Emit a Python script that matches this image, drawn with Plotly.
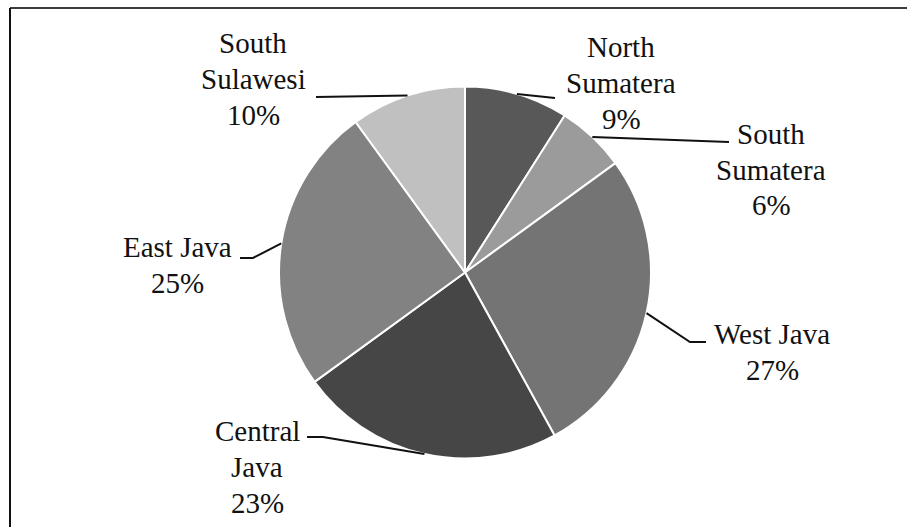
import math
import plotly.graph_objects as go

# Share of respondents by province
provinces = ["North Sumatera", "South Sumatera", "West Java", "Central Java", "East Java", "South Sulawesi"]
label_lines = [["North", "Sumatera"], ["South", "Sumatera"], ["West Java"], ["Central", "Java"], ["East Java"], ["South", "Sulawesi"]]
shares = [9, 6, 27, 23, 25, 10]
slice_colors = ["#585858", "#9b9b9b", "#747474", "#464646", "#828282", "#c0c0c0"]

W, H = 907, 527
CX, CY, R = 465, 272.5, 186           # pie centre and radius in pixels
LINE_GAP = 35.5                        # distance between label lines in pixels

# label block centres and leader-line bends (pixels)
label_pos = [(621, 83), (771, 170), (772, 352), (257, 467), (177, 265), (253, 79)]
leader_bends = [
    [(555, 98)],
    [(729, 142)],
    [(706, 342), (690, 342)],
    [(307, 437), (323, 437)],
    [(240, 258), (253, 258)],
    [(316, 97)],
]


def px(x, y):
    return x / W, 1 - y / H


fig = go.Figure(go.Pie(
    labels=provinces,
    values=shares,
    sort=False,
    direction="clockwise",
    rotation=0,
    marker=dict(colors=slice_colors, line=dict(color="white", width=2)),
    textinfo="none",
    hoverinfo="label+percent",
    showlegend=False,
    domain=dict(x=[(CX - R) / W, (CX + R) / W], y=[(H - CY - R) / H, (H - CY + R) / H]),
))

total = sum(shares)
shapes = []
annotations = []
cum = 0
for i, v in enumerate(shares):
    mid = (cum + v / 2) / total * 2 * math.pi
    cum += v
    ax, ay = CX + R * math.sin(mid), CY - R * math.cos(mid)
    pts = leader_bends[i] + [(ax, ay)]
    path = ""
    for j, (x, y) in enumerate(pts):
        fx, fy = px(x, y)
        path += ("M" if j == 0 else " L") + f" {fx:.5f},{fy:.5f}"
    shapes.append(dict(type="path", path=path, xref="paper", yref="paper",
                       line=dict(color="#111111", width=2)))

    pct = round(v / total * 100)
    lines = label_lines[i] + [f"{pct}%"]
    cx, cy = label_pos[i]
    top = cy - LINE_GAP * (len(lines) - 1) / 2
    for k, txt in enumerate(lines):
        lx, ly = px(cx, top + k * LINE_GAP)
        annotations.append(dict(
            x=lx, y=ly, xref="paper", yref="paper", xanchor="center", yanchor="middle",
            text=txt, showarrow=False, align="center",
            font=dict(family="Liberation Serif, serif", size=29, color="#111111"),
        ))

# frame lines along the top and left edges
x0, y0 = px(10, 8)
x1, _ = px(W, 8)
_, y1 = px(10, H)
shapes.append(dict(type="line", xref="paper", yref="paper", x0=x0, y0=y0, x1=x1, y1=y0,
                   line=dict(color="#3c3c3c", width=2)))
shapes.append(dict(type="line", xref="paper", yref="paper", x0=x0, y0=y0, x1=x0, y1=y1,
                   line=dict(color="#111111", width=2)))

fig.update_layout(
    width=W, height=H,
    margin=dict(l=0, r=0, t=0, b=0),
    paper_bgcolor="white", plot_bgcolor="white",
    shapes=shapes, annotations=annotations,
)

fig.write_html("out.html")
